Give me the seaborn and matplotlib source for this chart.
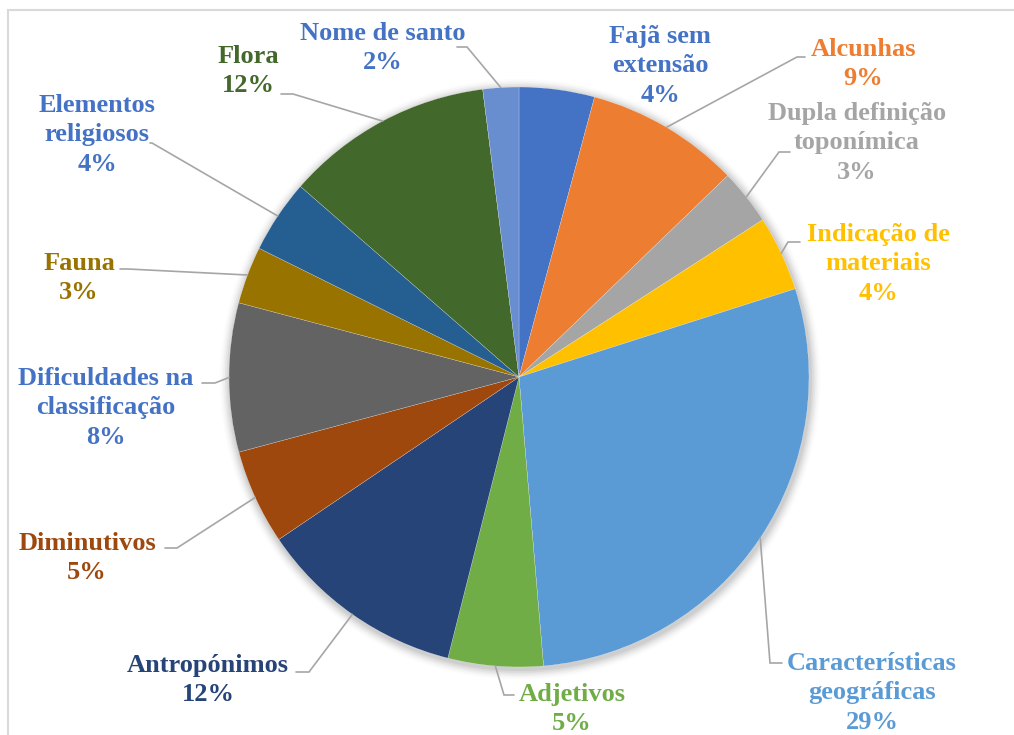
import numpy as np
import matplotlib
matplotlib.use("Agg")
import matplotlib.pyplot as plt
import seaborn as sns

# Dados (percentagens, sentido horário a partir do topo)
categorias = ["Fajã sem\nextensão", "Alcunhas", "Dupla definição\ntoponímica",
              "Indicação de\nmateriais", "Características\ngeográficas", "Adjetivos",
              "Antropónimos", "Diminutivos", "Dificuldades na\nclassificação",
              "Fauna", "Elementos\nreligiosos", "Flora", "Nome de santo"]
valores = [4.2, 8.6, 3.1, 4.2, 28.6, 5.3, 11.6, 5.3, 8.3, 3.2, 4.1, 11.6, 2.0]

cores_fatias = ["#4472C4", "#ED7D31", "#A5A5A5", "#FFC000", "#5B9BD5", "#70AD47",
                "#264478", "#9E480E", "#636363", "#997300", "#255E91", "#43682B",
                "#698ED0"]
cores_rotulos = ["#4472C4", "#ED7D31", "#A5A5A5", "#FFC000", "#5B9BD5", "#70AD47",
                 "#264478", "#9E480E", "#4472C4", "#997300", "#4472C4", "#43682B",
                 "#4472C4"]

sns.set_theme(style="white")
plt.rcParams["font.family"] = ["Liberation Serif", "DejaVu Serif"]

W, H = 1014, 735
CX, CY, R = 519, 377, 290


def px(x, y):
    # pixel -> coordenadas do eixo (raio da pizza = 1)
    return (x - CX) / R, (CY - y) / R


# posicao do texto, cotovelo e fim da linha guia (pixels)
pos_texto = [(660, 66), (863, 64), (857, 143), (878, 264), (872, 693), (572, 709),
             (208, 680), (87, 558), (106, 408), (79, 278), (97, 135), (248, 71),
             (383, 48)]
guias = [None, ((797, 57), (805, 57)), ((779, 152), (790, 152)),
         ((788, 242), (800, 242)), ((770, 663), (782, 663)),
         ((504, 695), (514, 695)), ((309, 672), (296, 672)),
         ((177, 548), (165, 548)), ((215, 383), (202, 383)),
         ((128, 269), (120, 269)), ((152, 143), (150, 143)),
         ((293, 94), (281, 94)), ((467, 47), (457, 47))]

fig = plt.figure(figsize=(W / 100, H / 100), dpi=100)
ax = fig.add_axes([0, 0, 1, 1])

# sombra suave por tras da pizza
for k, a in zip(range(6), [0.05, 0.045, 0.04, 0.03, 0.02, 0.01]):
    ax.add_patch(plt.Circle((0.004, -0.008), 1 + 0.006 * (k + 1),
                            color="black", alpha=a, lw=0, zorder=0))

ax.pie(valores, colors=sns.color_palette(cores_fatias), startangle=90,
       counterclock=False, radius=1,
       wedgeprops=dict(edgecolor="white", linewidth=0.15, zorder=1))

ax.set_xlim(-CX / R, (W - CX) / R)
ax.set_ylim(-(H - CY) / R, CY / R)
ax.set_aspect("equal")
ax.axis("off")

total = sum(valores)
acumulado = 0
for i, (cat, v) in enumerate(zip(categorias, valores)):
    meio = acumulado + v / 2
    acumulado += v
    ang = np.deg2rad(90 - 360 * meio / total)
    texto = f"{cat}\n{round(100 * v / total)}%"
    tx, ty = px(*pos_texto[i])
    ax.text(tx, ty, texto, ha="center", va="center", color=cores_rotulos[i],
            fontsize=19, fontweight="bold", linespacing=1.38)
    if guias[i] is not None:
        (ex, ey), (fx, fy) = px(*guias[i][0]), px(*guias[i][1])
        ax.plot([np.cos(ang), ex, fx], [np.sin(ang), ey, fy],
                color="#A6A6A6", lw=1.2, solid_joinstyle="miter")

# moldura do grafico
fig.add_artist(plt.Rectangle((8 / W, -0.05), 1.1, 1 - 10 / H + 0.05,
                             transform=fig.transFigure, fill=False,
                             edgecolor="#D9D9D9", lw=1.5))

fig.savefig("out.png", dpi=100)
